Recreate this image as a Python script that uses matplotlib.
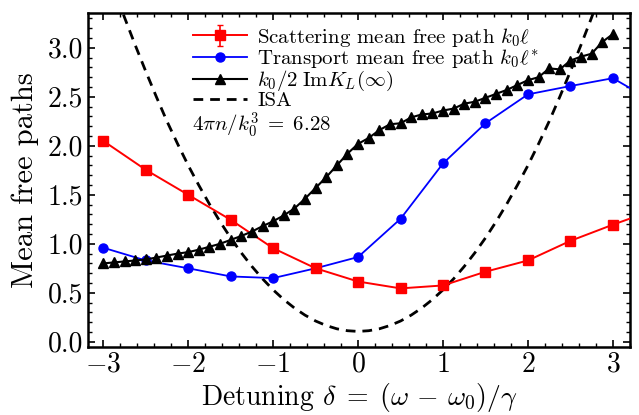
import matplotlib
matplotlib.use("Agg")
import matplotlib.pyplot as plt
import numpy as np
from matplotlib.ticker import MultipleLocator

plt.rcParams['font.family'] = 'serif'
plt.rcParams['font.serif'] = ['cmr10', 'DejaVu Serif']
plt.rcParams['mathtext.fontset'] = 'cm'
plt.rcParams['axes.formatter.use_mathtext'] = True
plt.rcParams['axes.unicode_minus'] = True

# Scattering mean free path (red squares)
delta_main = [-3, -2.5, -2, -1.5, -1, -0.5, 0, 0.5, 1, 1.5, 2, 2.5, 3, 3.5]
scat = [2.05, 1.755, 1.50, 1.245, 0.955, 0.75, 0.615, 0.545, 0.575, 0.715, 0.83, 1.03, 1.195, 1.35]
scat_err = [0.04, 0.03, 0.02, 0.02, 0.02, 0.02, 0.02, 0.02, 0.02, 0.03, 0.03, 0.02, 0.02, 0.02]

# Transport mean free path (blue circles)
trans = [0.96, 0.83, 0.75, 0.667, 0.65, 0.75, 0.865, 1.255, 1.82, 2.23, 2.525, 2.61, 2.69, 2.44]

# k0/2 Im K_L(inf) (black triangles)
delta_k = [-3, -2.875, -2.75, -2.625, -2.5, -2.375, -2.25, -2.125, -2, -1.875, -1.75, -1.625,
           -1.5, -1.375, -1.25, -1.125, -1, -0.875, -0.75, -0.625, -0.5, -0.375, -0.25, -0.125,
           0, 0.125, 0.25, 0.375, 0.5, 0.625, 0.75, 0.875, 1, 1.125, 1.25, 1.375, 1.5, 1.625,
           1.75, 1.875, 2, 2.125, 2.25, 2.375, 2.5, 2.625, 2.75, 2.875, 3]
imk = [0.80, 0.81, 0.82, 0.83, 0.84, 0.86, 0.88, 0.90, 0.915, 0.94, 0.97, 1.00,
       1.04, 1.08, 1.125, 1.18, 1.23, 1.29, 1.36, 1.46, 1.57, 1.68, 1.80, 1.92,
       2.02, 2.08, 2.16, 2.22, 2.23, 2.29, 2.32, 2.33, 2.36, 2.38, 2.43, 2.45, 2.49, 2.53,
       2.57, 2.62, 2.67, 2.70, 2.79, 2.78, 2.87, 2.91, 2.94, 3.06, 3.14]

# ISA (dashed)
delta_isa = [-2.875, -2.75, -2.625, -2.5, -2.375, -2.25, -2.125, -2, -1.875, -1.75, -1.625,
             -1.5, -1.375, -1.25, -1.125, -1, -0.875, -0.75, -0.625, -0.5, -0.375, -0.25, -0.125,
             0, 0.125, 0.25, 0.375, 0.5, 0.625, 0.75, 0.875, 1, 1.125, 1.25, 1.375, 1.5, 1.625,
             1.75, 1.875, 2, 2.125, 2.25, 2.375, 2.5, 2.625, 2.75, 2.875]
isa = [3.61, 3.31, 3.03, 2.76, 2.50, 2.25, 2.02, 1.80, 1.597, 1.405, 1.226,
       1.06, 0.908, 0.769, 0.643, 0.53, 0.431, 0.345, 0.272, 0.212, 0.166, 0.1325, 0.113,
       0.106, 0.113, 0.1325, 0.166, 0.212, 0.272, 0.345, 0.431, 0.53, 0.643, 0.769, 0.908, 1.06, 1.226,
       1.405, 1.597, 1.80, 2.02, 2.25, 2.50, 2.76, 3.03, 3.31, 3.61]

fig = plt.figure(figsize=(6.39, 4.15), dpi=100)
ax = fig.add_axes([0.1377, 0.1646, 0.848, 0.804])

h1 = ax.errorbar(delta_main, scat, yerr=scat_err, color='#ff0000', marker='s', markersize=7,
                 lw=1.4, capsize=2, elinewidth=1.2, label=r'Scattering mean free path $k_0\ell$', zorder=3)
h2, = ax.plot(delta_main, trans, color='#0000ff', marker='o', markersize=6.5, lw=1.3,
              label=r'Transport mean free path $k_0\ell^{*}$', zorder=3)
h3, = ax.plot(delta_k, imk, color='black', marker='^', markersize=6.5, lw=1.5,
              label=r'$k_0/2\;\mathrm{Im}K_L(\infty)$', zorder=4)
h4, = ax.plot(delta_isa, isa, color='black', ls=(0, (3.5, 2.5)), lw=2.0, label='ISA', zorder=2)

ax.set_xlim(-3.18, 3.2)
ax.set_ylim(-0.05, 3.355)
ax.xaxis.set_major_locator(MultipleLocator(1))
ax.xaxis.set_minor_locator(MultipleLocator(0.2))
ax.yaxis.set_major_locator(MultipleLocator(0.5))
ax.yaxis.set_minor_locator(MultipleLocator(0.1))
ax.yaxis.set_major_formatter(matplotlib.ticker.FormatStrFormatter('%.1f'))
ax.tick_params(which='both', direction='in', top=True, right=True)
ax.tick_params(which='major', length=5, width=1.2, labelsize=20)
ax.tick_params(which='minor', length=3, width=1.0)
for s in ax.spines.values():
    s.set_linewidth(1.8)

ax.set_xlabel(r'Detuning $\delta\;=\;(\omega\,-\,\omega_0)/\gamma$', fontsize=20, labelpad=2)
ax.set_ylabel('Mean free paths', fontsize=22, labelpad=6)

leg = ax.legend(handles=[h1, h2, h3, h4], loc='upper left', bbox_to_anchor=(0.17, 1.0),
                frameon=False, fontsize=15, handlelength=2.6, handletextpad=0.5,
                labelspacing=-0.06, borderaxespad=0.2)
ax.text(0.192, 0.664, r'$4\pi n/k_0^3\;=\;6.28$', transform=ax.transAxes, fontsize=15,
        va='center', ha='left')

fig.savefig('out.png', dpi=100)
